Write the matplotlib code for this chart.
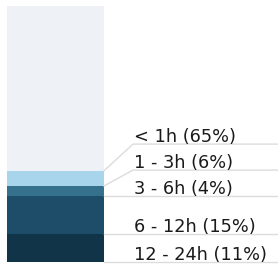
import matplotlib

matplotlib.use("Agg")
import matplotlib.pyplot as plt

# stacked from the bottom up
categories = ["12 - 24h", "6 - 12h", "3 - 6h", "1 - 3h", "< 1h"]
shares = [11, 15, 4, 6, 65]
colors = ["#123449", "#1d4d68", "#35708c", "#a8d5eb", "#eef2f6"]

W, H = 278, 266
total = sum(shares)
bar_top_px, bar_bottom_px = 6, 262
px_per_unit = (bar_bottom_px - bar_top_px) / total

fig = plt.figure(figsize=(W / 100, H / 100), dpi=100)
ax = fig.add_axes([0, (H - bar_bottom_px) / H, 1, (bar_bottom_px - bar_top_px) / H])
ax.set_xlim(0, W)
ax.set_ylim(0, total)
ax.axis("off")

bar_left, bar_right = 7, 104
label_x = 133
min_gap = 26 / px_per_unit

bottom = 0
label_y_prev = None
for name, share, color in zip(categories, shares, colors):
    ax.bar(bar_left, share, width=bar_right - bar_left, bottom=bottom,
           align="edge", color=color, linewidth=0)
    # label sits on the segment's lower edge, pushed up to avoid overlap
    label_y = bottom
    if label_y_prev is not None and label_y - label_y_prev < min_gap:
        label_y = label_y_prev + min_gap
    ax.plot([bar_right, label_x, W], [bottom, label_y, label_y],
            color="#dcdcdc", linewidth=1, clip_on=False, zorder=1)
    ax.text(label_x + 1, label_y + 2 / px_per_unit, f"{name} ({share}%)",
            fontsize=12.8, color="#1a1a1a", family="DejaVu Sans",
            ha="left", va="baseline")
    label_y_prev = label_y
    bottom += share

fig.savefig("out.png", dpi=100)
